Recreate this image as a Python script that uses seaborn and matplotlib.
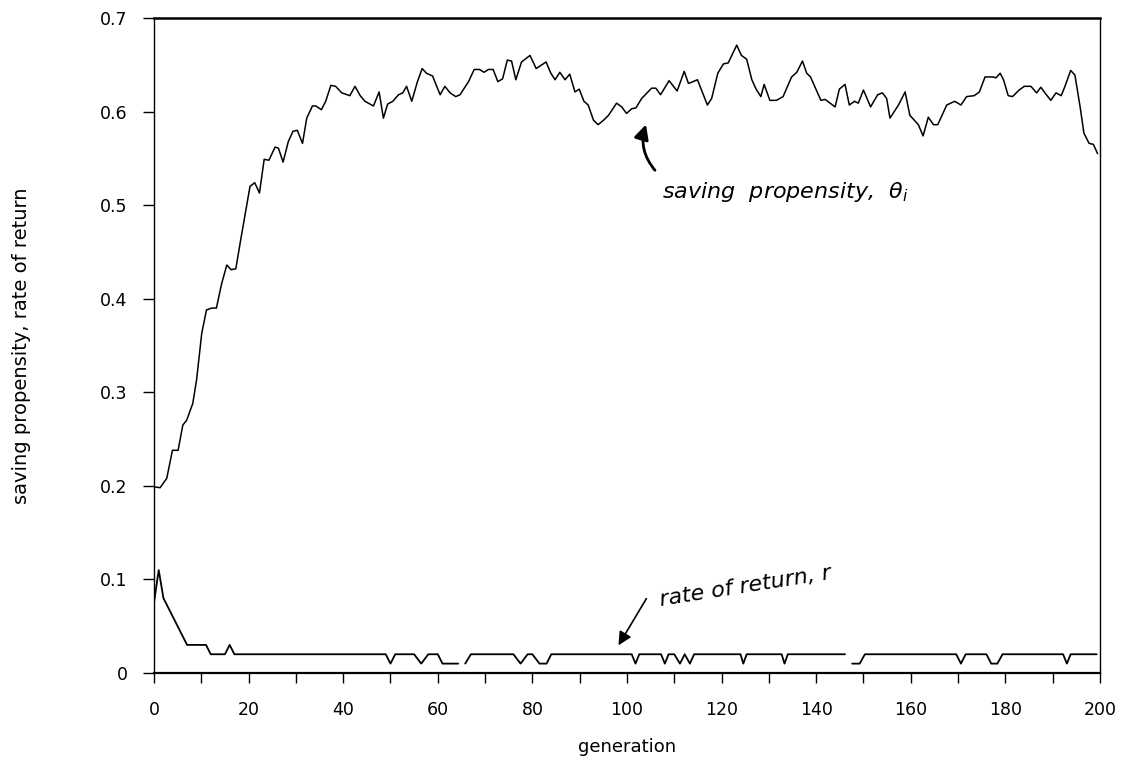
import numpy as np
import pandas as pd
import matplotlib
matplotlib.use("Agg")
import matplotlib.pyplot as plt
import seaborn as sns

# saving propensity (generation, value)
sav_gen = [0, 1.3, 2.7, 3.9, 5.1, 6.1, 6.9, 8.2, 9.0, 10.1, 11.1, 12.2, 13.2, 14.3, 15.4,
           16.3, 17.3, 18.2, 19.2, 20.3, 21.3, 22.3, 23.3, 24.3, 25.6, 26.3, 27.3, 28.4,
           29.4, 30.3, 31.4, 32.3, 33.5, 34.2, 35.4, 36.3, 37.4, 38.4, 39.7, 41.4, 42.5,
           43.6, 44.6, 46.4, 47.6, 48.5, 49.4, 50.5, 51.7, 52.6, 53.4, 54.5, 55.7, 56.7,
           57.6, 58.9, 60.5, 61.5, 62.6, 63.8, 64.7, 66.5, 67.7, 68.8, 69.8, 70.7, 71.7,
           72.7, 73.7, 74.7, 75.6, 76.5, 77.7, 79.5, 80.8, 81.7, 82.9, 83.9, 84.8, 85.8,
           86.9, 87.9, 89.0, 89.9, 90.9, 91.8, 92.9, 93.9, 95.1, 96.1, 97.8, 98.9, 99.9,
           101.0, 101.9, 103.1, 105.2, 106.1, 107.1, 108.9, 110.6, 112.1, 113.0, 114.9,
           117.0, 117.9, 119.2, 120.4, 121.4, 123.2, 124.2, 125.3, 126.4, 127.3, 128.3,
           129.0, 130.2, 131.6, 133.0, 134.8, 135.9, 137.1, 138.0, 138.8, 141.0, 141.9,
           144.0, 144.9, 146.1, 147.0, 148.1, 148.9, 150.0, 151.5, 153.0, 154.0, 154.9,
           155.6, 157.4, 158.8, 159.8, 161.6, 162.6, 163.7, 164.8, 165.7, 167.6, 169.3,
           170.6, 171.8, 173.4, 174.5, 175.7, 177.4, 178.0, 178.9, 179.6, 180.6, 181.5,
           182.9, 184.0, 185.4, 186.6, 187.5, 188.5, 189.6, 190.7, 191.8, 192.6, 193.8,
           194.7, 195.8, 196.6, 197.7, 198.6, 199.5]
sav_val = [0.199, 0.198, 0.208, 0.238, 0.238, 0.265, 0.270, 0.288, 0.313, 0.363, 0.388,
           0.390, 0.390, 0.416, 0.436, 0.431, 0.432, 0.459, 0.488, 0.520, 0.524, 0.513,
           0.549, 0.548, 0.562, 0.561, 0.546, 0.568, 0.579, 0.580, 0.566, 0.593, 0.606,
           0.606, 0.602, 0.611, 0.628, 0.627, 0.620, 0.617, 0.627, 0.617, 0.611, 0.606,
           0.621, 0.593, 0.608, 0.611, 0.618, 0.620, 0.627, 0.611, 0.632, 0.646, 0.641,
           0.638, 0.618, 0.627, 0.620, 0.616, 0.618, 0.632, 0.645, 0.645, 0.642, 0.645,
           0.645, 0.632, 0.635, 0.655, 0.654, 0.634, 0.653, 0.660, 0.646, 0.649, 0.653,
           0.641, 0.634, 0.642, 0.634, 0.640, 0.621, 0.624, 0.611, 0.607, 0.591, 0.586,
           0.591, 0.596, 0.609, 0.605, 0.598, 0.603, 0.604, 0.614, 0.625, 0.625, 0.618,
           0.633, 0.622, 0.643, 0.630, 0.634, 0.607, 0.614, 0.641, 0.651, 0.652, 0.671,
           0.660, 0.656, 0.634, 0.624, 0.616, 0.629, 0.612, 0.612, 0.616, 0.637, 0.642,
           0.654, 0.641, 0.637, 0.612, 0.613, 0.605, 0.624, 0.629, 0.607, 0.611, 0.609,
           0.623, 0.605, 0.618, 0.620, 0.614, 0.593, 0.607, 0.621, 0.596, 0.586, 0.574,
           0.594, 0.586, 0.586, 0.607, 0.611, 0.607, 0.616, 0.617, 0.621, 0.637, 0.637,
           0.636, 0.641, 0.634, 0.617, 0.616, 0.623, 0.627, 0.627, 0.620, 0.626, 0.619,
           0.612, 0.620, 0.617, 0.627, 0.644, 0.639, 0.605, 0.577, 0.566, 0.565, 0.555]

# rate of return (generation, value); NaN marks the breaks in the trace
ret_gen = [0, 1, 2, 7, 11, 12, 15, 16, 17, 49, 50, 51, 55, 56.5, 58, 60, 61, 64.3, 65,
           65.8, 67, 76, 77.5, 79, 80, 81.5, 83, 84, 101, 101.8, 102.6, 107.2, 108, 108.8,
           110, 111.2, 112.2, 113.3, 114.2, 124, 124.6, 125.3, 132.7, 133.3, 134, 146.1,
           147, 147.6, 149.2, 150.3, 169.6, 170.6, 171.6, 176, 177, 178.3, 179.4, 192.2,
           193, 193.8, 199.3]
ret_val = [0.075, 0.11, 0.08, 0.03, 0.03, 0.02, 0.02, 0.03, 0.02, 0.02, 0.01, 0.02, 0.02,
           0.01, 0.02, 0.02, 0.01, 0.01, np.nan, 0.01, 0.02, 0.02, 0.01, 0.02, 0.02, 0.01,
           0.01, 0.02, 0.02, 0.01, 0.02, 0.02, 0.01, 0.02, 0.02, 0.01, 0.02, 0.01, 0.02,
           0.02, 0.01, 0.02, 0.02, 0.01, 0.02, 0.02, np.nan, 0.01, 0.01, 0.02, 0.02, 0.01,
           0.02, 0.02, 0.01, 0.01, 0.02, 0.02, 0.01, 0.02, 0.02]

x_ticks = list(range(0, 201, 20))
y_ticks = [0, 0.1, 0.2, 0.3, 0.4, 0.5, 0.6, 0.7]
y_tick_labels = ["0", "0.1", "0.2", "0.3", "0.4", "0.5", "0.6", "0.7"]

sns.set_theme(style="white")
plt.rcParams["font.family"] = ["DejaVu Sans"]
plt.rcParams["text.color"] = "black"
plt.rcParams["axes.labelcolor"] = "black"
plt.rcParams["xtick.color"] = "black"
plt.rcParams["ytick.color"] = "black"

fig = plt.figure(figsize=(11.38, 7.73), dpi=100)
ax = fig.add_axes([0.1353, 0.1294, 0.8313, 0.8473])

sav = pd.DataFrame({"generation": sav_gen, "value": sav_val})
sns.lineplot(data=sav, x="generation", y="value", color="black", lw=1.1, ax=ax)

ret = pd.DataFrame({"generation": ret_gen, "value": ret_val})
ret["seg"] = ret["value"].isna().cumsum()
for _, part in ret.dropna().groupby("seg"):
    sns.lineplot(data=part, x="generation", y="value", color="black", lw=1.3, ax=ax)

ax.set_xlim(0, 200)
ax.set_ylim(0, 0.7)
ax.set_xticks(x_ticks)
ax.set_xticks(range(10, 200, 20), minor=True)
ax.set_yticks(y_ticks)
ax.set_yticklabels(y_tick_labels)
ax.tick_params(axis="x", which="both", direction="out", length=7, width=1,
               color="black", pad=13, labelsize=12.5, bottom=True)
ax.tick_params(axis="y", direction="out", length=8, width=1, color="black",
               pad=11, labelsize=12.5, left=True)
for s in ax.spines.values():
    s.set_color("black")
    s.set_linewidth(1)
ax.spines["top"].set_linewidth(1.8)
ax.spines["bottom"].set_linewidth(1.6)

ax.set_xlabel("generation", fontsize=13)
ax.xaxis.set_label_coords(0.5, -0.1)
ax.set_ylabel("saving propensity, rate of return", fontsize=14)
ax.yaxis.set_label_coords(-0.13, 0.5)

# hand-written style notes
ax.text(107.5, 0.514, r"saving  propensity,  $\theta_i$", fontsize=16,
        style="italic", ha="left", va="center")
ax.annotate("", xy=(104.2, 0.589), xytext=(106.3, 0.535),
            arrowprops=dict(arrowstyle="-|>", color="black", lw=2,
                            mutation_scale=22, connectionstyle="arc3,rad=-0.3"))
ax.text(106.5, 0.092, "rate of return, r", fontsize=16, style="italic",
        ha="left", va="center", rotation=9)
ax.annotate("", xy=(97.9, 0.027), xytext=(104.4, 0.082),
            arrowprops=dict(arrowstyle="-|>", color="black", lw=1.2,
                            mutation_scale=20))

fig.savefig("out.png", dpi=100, facecolor="white")
